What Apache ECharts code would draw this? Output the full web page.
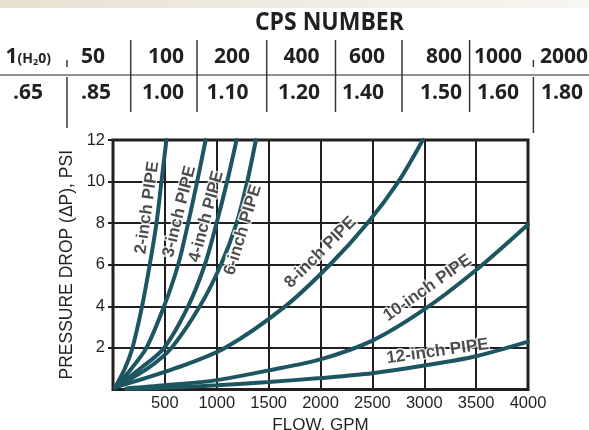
<!DOCTYPE html>
<html><head><meta charset="utf-8">
<script src="https://cdn.jsdelivr.net/npm/echarts@6/dist/echarts.min.js"></script>
<style>html,body{margin:0;padding:0;background:#fff}#c{width:589px;height:430px}</style>
</head><body><div id="c"></div>
<script>
// ---- data ----
const psiLevels = [0.1, 1, 2, 4, 6, 8, 10, 12];
const pipe2Flow = [20, 113, 187, 280, 354, 419, 467, 515];
const pipe3Flow = [20, 177, 322, 492, 628, 724, 811, 893];
const pipe4Flow = [20, 260, 492, 724, 885, 998, 1100, 1191];
const pipe6Flow = [20, 330, 563, 837, 1040, 1191, 1294, 1377];
const pipe8Flow = [20, 590, 1078, 1660, 2090, 2452, 2751, 2986];
const flowLevels = [130, 500, 1000, 1500, 2000, 2500, 3000, 3500, 4000];
const pipe10Psi = [0.05, 0.2, 0.45, 0.92, 1.45, 2.35, 3.85, 5.75, 7.94];
const pipe12Psi = [0.02, 0.08, 0.2, 0.36, 0.55, 0.78, 1.15, 1.6, 2.3];
const pipeNames = ['2-inch PIPE', '3-inch PIPE', '4-inch PIPE', '6-inch PIPE', '8-inch PIPE', '10-inch PIPE', '12-inch PIPE'];
const labelFlow = [330, 641, 900, 1252, 1999, 3032, 3128];
const labelPsi = [8.75, 8.56, 8.32, 7.67, 6.59, 4.88, 1.83];
const labelAngle = [82, 76, 75, 73, 45, 35, 8];
const cpsNumbers = ['1', '50', '100', '200', '400', '600', '800', '1000', '2000'];
const cpsFactors = ['.65', '.85', '1.00', '1.10', '1.20', '1.40', '1.50', '1.60', '1.80'];

// ---- layout ----
const TEAL = '#1d5661';
const INK = '#231f20';
const row1X = [5.6, 81, 148, 214, 283.6, 349, 426, 474, 540];
const row2X = [13, 81, 142, 206.6, 278, 342, 420, 477, 541];
const sepX = [67, 130.7, 197, 266.7, 335.5, 402, 469.6, 533.4];
const ROW1Y = 57, ROW2Y = 93, RULEY = 75;

const steep = [pipe2Flow, pipe3Flow, pipe4Flow, pipe6Flow, pipe8Flow];
const series = [];
steep.forEach((fl, i) => {
  series.push({
    type: 'line', name: pipeNames[i], smooth: 0.3, symbol: 'none',
    lineStyle: {color: TEAL, width: 4, cap: 'round'},
    data: fl.map((f, j) => [f, psiLevels[j]]), z: 3
  });
});
[pipe10Psi, pipe12Psi].forEach((ps, i) => {
  series.push({
    type: 'line', name: pipeNames[5 + i], smooth: 0.3, symbol: 'none',
    lineStyle: {color: TEAL, width: 4, cap: 'round'},
    data: ps.map((p, j) => [flowLevels[j], p]), z: 3
  });
});
series.push({
  type: 'scatter', name: 'labels', symbolSize: 0, silent: true, z: 5,
  data: pipeNames.map((n, i) => ({
    value: [labelFlow[i], labelPsi[i]], name: n,
    label: {rotate: labelAngle[i]}
  })),
  label: {
    show: true, position: 'inside', formatter: p => p.name,
    fontFamily: 'Liberation Sans', fontWeight: 'bold', fontSize: 17,
    color: INK, textBorderColor: '#fff', textBorderWidth: 3
  }
});

// table graphics
const graphic = [];
graphic.push({type: 'rect', left: 0, top: 0, shape: {width: 589, height: 8},
  style: {fill: new echarts.graphic.LinearGradient(0, 0, 1, 0, [{offset: 0, color: '#e8e1d1'}, {offset: 1, color: '#f8f6f1'}])}});
graphic.push({type: 'text', x: 305, y: 23, style: {text: 'CPS NUMBER', fontFamily: 'Open Sans', fontWeight: 'bold', fontSize: 25, fill: INK, align: 'center', verticalAlign: 'middle'}, scaleX: 0.92, originX: 305});
cpsNumbers.forEach((t, i) => {
  if (i === 0) {
    graphic.push({type: 'text', x: row1X[i], y: ROW1Y, style: {
      text: '{a|1}{b|(H}{s|2}{b|0)}', fill: INK, verticalAlign: 'middle',
      rich: {a: {fontFamily: 'Open Sans', fontWeight: 'bold', fontSize: 21, fill: INK},
             b: {fontFamily: 'Open Sans', fontWeight: 'bold', fontSize: 14, fill: INK, padding: [4, 0, 0, 0]},
             s: {fontFamily: 'Open Sans', fontWeight: 'bold', fontSize: 9, fill: INK, padding: [10, 0, 0, 0]}}
    }});
  } else {
    graphic.push({type: 'text', x: row1X[i], y: ROW1Y, style: {text: t, fontFamily: 'Open Sans', fontWeight: 'bold', fontSize: 21, fill: INK, verticalAlign: 'middle'}});
  }
});
cpsFactors.forEach((t, i) => {
  graphic.push({type: 'text', x: row2X[i], y: ROW2Y, style: {text: t, fontFamily: 'Open Sans', fontWeight: 'bold', fontSize: 21, fill: INK, verticalAlign: 'middle'}});
});
graphic.push({type: 'line', shape: {x1: 0, y1: RULEY, x2: 589, y2: RULEY}, style: {stroke: '#6d6a6a', lineWidth: 1.5}});
sepX.forEach((x, i) => {
  if (i === 0 || i === sepX.length - 1) {
    graphic.push({type: 'line', shape: {x1: x, y1: 60, x2: x, y2: 67}, style: {stroke: '#3a3636', lineWidth: 1.5}});
    graphic.push({type: 'line', shape: {x1: x, y1: 77, x2: x, y2: i === 0 ? 128 : 133}, style: {stroke: '#3a3636', lineWidth: 1.5}});
  } else {
    graphic.push({type: 'line', shape: {x1: x, y1: 40, x2: x, y2: 112}, style: {stroke: '#3a3636', lineWidth: 1.5}});
  }
});

const chart = echarts.init(document.getElementById('c'), null, {renderer: 'canvas'});
chart.setOption({
  animation: false,
  backgroundColor: '#fff',
  grid: {left: 113, right: 61, top: 140, bottom: 40.5, show: true, borderColor: INK, borderWidth: 3,
         backgroundColor: 'transparent', outerBoundsMode: 'none', containLabel: false},
  xAxis: {
    type: 'value', min: 0, max: 4000, interval: 500,
    name: 'FLOW, GPM', nameLocation: 'middle', nameGap: 25,
    nameTextStyle: {fontFamily: 'Liberation Sans', fontSize: 17, color: INK},
    axisLine: {show: false}, axisTick: {show: false},
    axisLabel: {showMinLabel: false, margin: 5, fontFamily: 'Liberation Sans', fontSize: 16.5, color: INK, formatter: v => String(v)},
    splitLine: {show: true, lineStyle: {color: INK, width: 2}}
  },
  yAxis: {
    type: 'value', min: 0, max: 12, interval: 2,
    name: 'PRESSURE DROP (ΔP), PSI', nameLocation: 'middle', nameGap: 27, nameRotate: 90,
    nameTextStyle: {fontFamily: 'Liberation Sans', fontSize: 17.5, color: INK},
    axisLine: {show: false}, axisTick: {show: true, length: 5, lineStyle: {color: INK, width: 2}},
    axisLabel: {showMinLabel: false, margin: 8, fontFamily: 'Liberation Sans', fontSize: 16.5, color: INK},
    splitLine: {show: true, lineStyle: {color: INK, width: 2}}
  },
  series: series,
  graphic: graphic
});
</script></body></html>
